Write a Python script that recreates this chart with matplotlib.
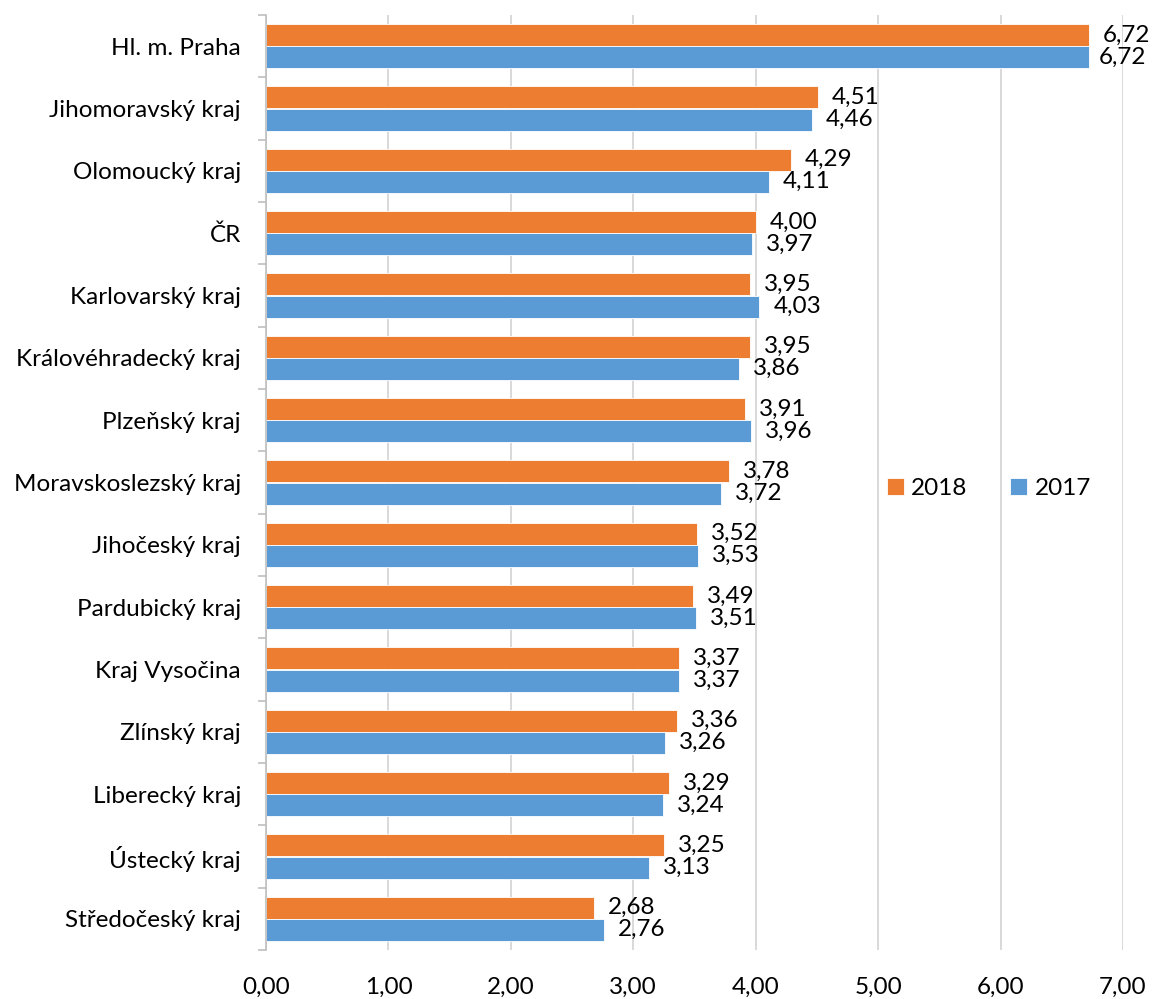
import matplotlib
matplotlib.use("Agg")
import matplotlib.pyplot as plt
import numpy as np

categories = ["Hl. m. Praha", "Jihomoravský kraj", "Olomoucký kraj", "ČR",
              "Karlovarský kraj", "Královéhradecký kraj", "Plzeňský kraj",
              "Moravskoslezský kraj", "Jihočeský kraj", "Pardubický kraj",
              "Kraj Vysočina", "Zlínský kraj", "Liberecký kraj", "Ústecký kraj",
              "Středočeský kraj"]
v2018 = [6.72, 4.51, 4.29, 4.00, 3.95, 3.95, 3.91, 3.78, 3.52, 3.49, 3.37, 3.36, 3.29, 3.25, 2.68]
v2017 = [6.72, 4.46, 4.11, 3.97, 4.03, 3.86, 3.96, 3.72, 3.53, 3.51, 3.37, 3.26, 3.24, 3.13, 2.76]
xticks = [0, 1, 2, 3, 4, 5, 6, 7]

plt.rcParams['font.family'] = ['Lato', 'DejaVu Sans']
fs = 17.5

fig = plt.figure(figsize=(11.52, 9.99), dpi=100)
ax = fig.add_axes([266/1152, 1-950/999, (1123-266)/1152, (950-15)/999])

y = np.arange(len(categories))
h = 0.353
orange = "#ED7D31"
blue = "#5B9BD5"
b1 = ax.barh(y - h/2, v2018, height=h, color=orange, edgecolor="white", linewidth=0.6, label="2018", zorder=3)
b2 = ax.barh(y + h/2, v2017, height=h, color=blue, edgecolor="white", linewidth=0.6, label="2017", zorder=3)

for yi, v in zip(y, v2018):
    ax.annotate(f"{v:.2f}".replace(".", ","), (v, yi - h/2), xytext=(10, 0),
                textcoords="offset points", va="center", ha="left", fontsize=fs)
for yi, v in zip(y, v2017):
    ax.annotate(f"{v:.2f}".replace(".", ","), (v, yi + h/2), xytext=(10 if v < 6.5 else 7, 0),
                textcoords="offset points", va="center", ha="left", fontsize=fs)

ax.set_xlim(0, 7)
ax.set_ylim(len(categories) - 0.5, -0.5)
ax.set_xticks(xticks)
ax.set_xticklabels([f"{t:.2f}".replace(".", ",") for t in xticks], fontsize=fs)
ax.set_yticks(y)
ax.set_yticklabels(categories, fontsize=fs)
ax.set_yticks(np.arange(-0.5, len(categories), 1), minor=True)
ax.tick_params(axis="y", which="major", length=0, pad=18)
ax.tick_params(axis="y", which="minor", length=6, color="#BFBFBF", width=1.2)
ax.tick_params(axis="x", length=0, pad=19)

ax.grid(axis="x", color="#D9D9D9", linewidth=1.4, zorder=0)
for s in ["top", "right", "bottom"]:
    ax.spines[s].set_visible(False)
ax.spines["left"].set_color("#BFBFBF")
ax.spines["left"].set_linewidth(1.2)
ax.spines["left"].set_zorder(4)

ax.legend(handles=[b1, b2], loc="center left", bbox_to_anchor=(0.699, 0.494), ncol=2,
          frameon=False, fontsize=fs, handlelength=0.7, handleheight=0.7,
          handletextpad=0.3, columnspacing=1.75)

fig.savefig("out.png", dpi=100)
